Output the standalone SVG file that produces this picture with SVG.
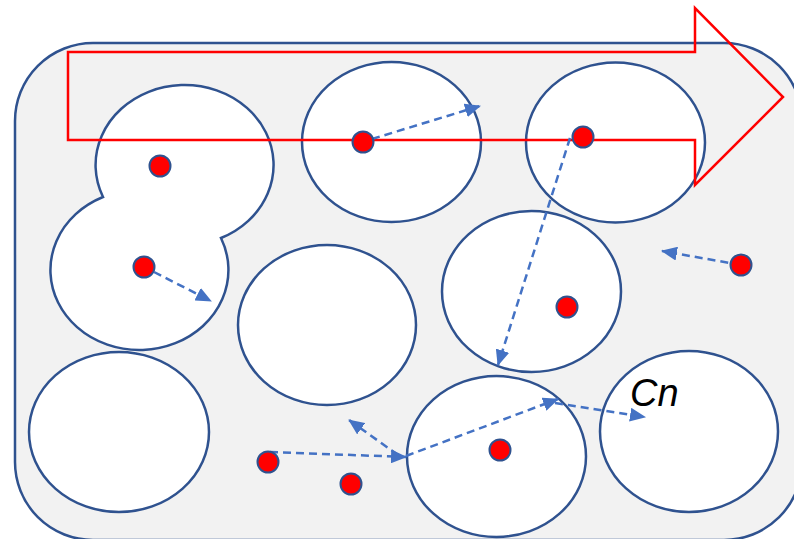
<svg xmlns="http://www.w3.org/2000/svg" width="794" height="539" viewBox="0 0 794 539">
<style>
.cell{fill:#FFFFFF;stroke:#2F528F;stroke-width:2.5}
.dot{fill:#FF0000;stroke:#2F528F;stroke-width:2}
.move{fill:none;stroke:#4472C4;stroke-width:2.5;stroke-dasharray:8 5;marker-end:url(#ah)}
.lbl{font-family:"Liberation Sans",Arial,sans-serif;font-style:italic;font-size:38px;fill:#000000}
</style>
<defs>
<marker id="ah" markerUnits="userSpaceOnUse" markerWidth="16" markerHeight="14" refX="15" refY="7" orient="auto">
<path d="M0,0 L16,7 L0,14 Z" fill="#4472C4"/>
</marker>
</defs>
<rect id="region" x="15" y="43" width="787" height="497" rx="78" ry="78" fill="#F2F2F2" stroke="#2F528F" stroke-width="2.5"/>
<g id="cells">
<g id="blob"><path class="cell" d="M103,197 A89,80 0 1 1 221,238 A89,80 0 1 1 103,197 Z"/></g>
<g id="c2"><ellipse class="cell" cx="391.5" cy="142" rx="89.5" ry="80"/></g>
<g id="c3"><ellipse class="cell" cx="615.5" cy="142.5" rx="89.5" ry="80"/></g>
<g id="c4"><ellipse class="cell" cx="531.5" cy="291.5" rx="89.5" ry="80.5"/></g>
<g id="c5"><ellipse class="cell" cx="327" cy="325" rx="89" ry="80"/></g>
<g id="c6"><ellipse class="cell" cx="119" cy="432" rx="90" ry="80"/></g>
<g id="c7"><ellipse class="cell" cx="496.5" cy="456.5" rx="89.5" ry="80.5"/></g>
<g id="cn"><ellipse class="cell" cx="689" cy="431.5" rx="89" ry="80.5"/><text class="lbl" x="630" y="406">Cn</text></g>
</g>
<g id="big-arrow"><polygon points="68,52 695,52 695,8 783,97 695,185 695,140 68,140" fill="none" stroke="#FF0000" stroke-width="2.5"/></g>
<g id="connectors">
<line class="move" x1="372" y1="139" x2="480" y2="106"/>
<line class="move" x1="570" y1="138" x2="498" y2="365"/>
<line class="move" x1="154" y1="272" x2="211" y2="301"/>
<line class="move" x1="741" y1="265" x2="662" y2="251"/>
<line class="move" x1="270" y1="452" x2="406" y2="457"/>
<line class="move" x1="398" y1="455" x2="349" y2="420"/>
<line class="move" x1="406" y1="456" x2="558" y2="399"/>
<line class="move" x1="555" y1="403" x2="645" y2="417"/>
</g>
<g id="particles">
<circle class="dot" cx="160" cy="166" r="10.5"/>
<circle class="dot" cx="144" cy="267" r="10.5"/>
<circle class="dot" cx="363" cy="142" r="10.5"/>
<circle class="dot" cx="583" cy="137" r="10.5"/>
<circle class="dot" cx="567" cy="307" r="10.5"/>
<circle class="dot" cx="741" cy="265" r="10.5"/>
<circle class="dot" cx="268" cy="462" r="10.5"/>
<circle class="dot" cx="351" cy="484" r="10.5"/>
<circle class="dot" cx="500" cy="450" r="10.5"/>
</g>
</svg>
